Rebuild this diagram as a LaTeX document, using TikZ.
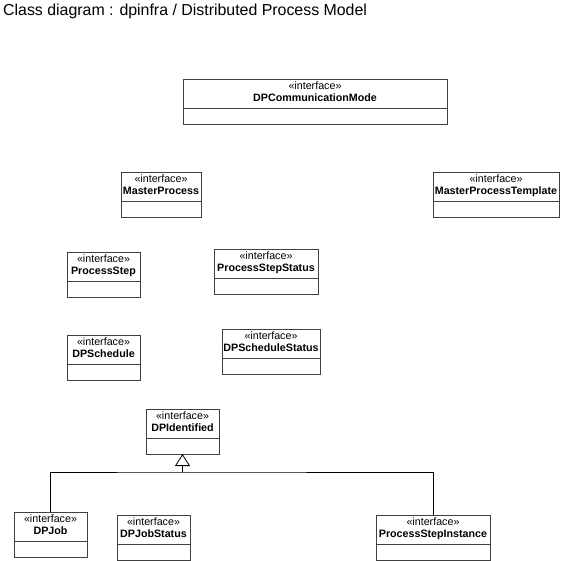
\documentclass[tikz,border=0pt]{standalone}
\usepackage{fontspec}
\setmainfont{Liberation Sans}
\usetikzlibrary{positioning, arrows.meta}

\newcommand{\stereo}{«interface»}
\newcommand{\cname}[1]{\textbf{#1}\rule[-4pt]{0pt}{4pt}}

\tikzset{
  head/.style={draw=black!75, line width=0.8pt, anchor=north west,
    align=center, minimum height=29pt, inner sep=0pt, outer sep=0pt,
    font=\fontsize{10.7}{12}\selectfont},
  body/.style={draw=black!75, line width=0.8pt, minimum height=16pt,
    inner sep=0pt, outer sep=0pt},
}

\begin{document}
\begin{tikzpicture}[x=1pt, y=-1pt]
        \useasboundingbox (0,0) rectangle (562,561);

        \node[anchor=base west, inner sep=0pt,
        font=\fontsize{15.9}{18}\selectfont] (title) at (3,16)
        {Class diagram : dpinfra / Distributed Process Model};

        \node[head, minimum width=264pt] (commh) at (183,79)
        {\stereo \\ \cname{DPCommunicationMode}};
        \node[body, minimum width=264pt, below=0pt of commh] (commb) {};

        \node[head, minimum width=80pt] (masterh) at (121,172)
        {\stereo \\ \cname{MasterProcess}};
        \node[body, minimum width=80pt, below=0pt of masterh] (masterb) {};

        \node[head, minimum width=126pt] (templh) at (433,172)
        {\stereo \\ \cname{MasterProcessTemplate}};
        \node[body, minimum width=126pt, below=0pt of templh] (templb) {};

        \node[head, minimum width=73pt] (steph) at (67,252)
        {\stereo \\ \cname{ProcessStep}};
        \node[body, minimum width=73pt, below=0pt of steph] (stepb) {};

        \node[head, minimum width=104pt] (stepsth) at (214,249)
        {\stereo \\ \cname{ProcessStepStatus}};
        \node[body, minimum width=104pt, below=0pt of stepsth] (stepstb) {};

        \node[head, minimum width=73pt] (schedh) at (67,335)
        {\stereo \\ \cname{DPSchedule}};
        \node[body, minimum width=73pt, below=0pt of schedh] (schedb) {};

        \node[head, minimum width=98pt] (schedsth) at (222,329)
        {\stereo \\ \cname{DPScheduleStatus}};
        \node[body, minimum width=98pt, below=0pt of schedsth] (schedstb) {};

        \node[head, minimum width=73pt] (identh) at (146,409)
        {\stereo \\ \cname{DPIdentified}};
        \node[body, minimum width=73pt, below=0pt of identh] (identb) {};

        \node[head, minimum width=73pt] (jobh) at (14,512)
        {\stereo \\ \cname{DPJob}};
        \node[body, minimum width=73pt, below=0pt of jobh] (jobb) {};

        \node[head, minimum width=73pt] (jobsth) at (117,515)
        {\stereo \\ \cname{DPJobStatus}};
        \node[body, minimum width=73pt, below=0pt of jobsth] (jobstb) {};

        \node[head, minimum width=114pt] (psih) at (376,515)
        {\stereo \\ \cname{ProcessStepInstance}};
        \node[body, minimum width=114pt, below=0pt of psih] (psib) {};

        % generalisation to DPIdentified
        \coordinate (bus) at (identb.south |- 0,472);
        \draw[line width=0.8pt] (jobh.north) |- (bus) -| (psih.north);
        \draw[line width=0.8pt, -{Triangle[open, length=12pt, width=15pt]}]
        (bus) -- (identb.south);
      \end{tikzpicture}
\end{document}
